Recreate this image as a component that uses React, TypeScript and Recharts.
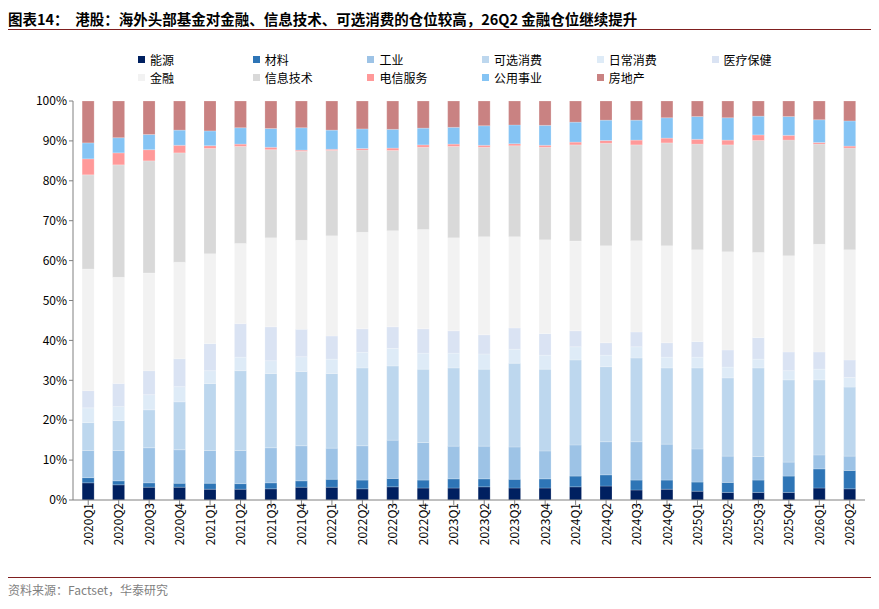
import { BarChart, Bar, XAxis, YAxis } from 'recharts'

const quarters = [
    '2020Q1', '2020Q2', '2020Q3', '2020Q4', '2021Q1', '2021Q2', '2021Q3', '2021Q4',
    '2022Q1', '2022Q2', '2022Q3', '2022Q4', '2023Q1', '2023Q2', '2023Q3', '2023Q4',
    '2024Q1', '2024Q2', '2024Q3', '2024Q4', '2025Q1', '2025Q2', '2025Q3', '2025Q4',
    '2026Q1', '2026Q2',
]

const energy = [4.3, 3.8, 3.2, 3.2, 2.7, 2.7, 2.8, 3.2, 3.2, 2.8, 3.3, 3.0, 3.0, 3.3, 3.0, 3.0, 3.3, 3.5, 2.5, 2.7, 2.2, 1.9, 1.9, 1.9, 3.0, 2.8]
const materials = [1.3, 1.0, 1.1, 1.0, 1.5, 1.4, 1.5, 1.6, 2.0, 2.2, 2.1, 2.0, 2.3, 2.0, 2.2, 2.3, 2.7, 2.8, 2.5, 2.3, 2.3, 2.5, 3.1, 4.1, 4.8, 4.6]
const industry = [6.8, 7.6, 8.8, 8.4, 8.2, 8.3, 8.8, 8.8, 7.8, 8.6, 9.6, 9.4, 8.2, 8.2, 8.1, 7.0, 7.8, 8.3, 9.6, 9.0, 8.3, 6.6, 5.9, 3.5, 3.5, 3.6]
const discretionary = [7.0, 7.5, 9.5, 12.0, 16.8, 20.0, 18.6, 18.6, 18.7, 19.5, 18.6, 18.4, 19.6, 19.3, 21.0, 20.5, 21.3, 18.8, 21.0, 19.1, 20.3, 19.6, 22.2, 20.6, 18.8, 17.3]
const staples = [3.7, 3.5, 3.8, 3.8, 3.2, 3.4, 3.2, 3.7, 3.6, 3.9, 4.4, 4.0, 3.7, 3.8, 3.5, 3.5, 3.3, 2.9, 2.8, 2.7, 2.7, 2.7, 2.2, 2.3, 2.7, 2.4]
const healthcare = [4.3, 5.8, 6.0, 7.0, 6.8, 8.4, 8.5, 6.9, 5.8, 5.9, 5.4, 6.1, 5.6, 4.8, 5.3, 5.4, 4.0, 3.1, 3.7, 3.6, 3.9, 4.3, 5.4, 4.7, 4.3, 4.4]
const finance = [30.5, 26.6, 24.5, 24.2, 22.5, 20.1, 22.3, 22.3, 25.1, 24.2, 24.1, 24.9, 23.3, 24.6, 22.9, 23.5, 22.5, 24.3, 22.9, 24.3, 23.0, 24.6, 21.3, 24.1, 27.0, 27.6]
const infoTech = [23.6, 28.2, 28.1, 27.4, 26.4, 24.3, 22.1, 22.3, 21.4, 20.6, 20.1, 20.6, 22.9, 22.4, 22.8, 23.2, 24.1, 25.7, 24.0, 25.8, 26.5, 26.8, 28.1, 29.0, 25.1, 25.5]
const telecom = [4.0, 3.0, 2.8, 1.9, 0.7, 0.6, 0.6, 0.3, 0.3, 0.4, 0.6, 0.6, 0.6, 0.5, 0.5, 0.5, 0.7, 0.7, 1.2, 1.2, 1.2, 1.2, 1.4, 1.2, 0.4, 0.5]
const utilities = [4.0, 3.8, 3.8, 3.8, 3.7, 4.1, 4.7, 5.6, 4.8, 4.9, 4.7, 4.2, 4.2, 4.9, 4.7, 5.0, 5.0, 5.1, 5.0, 5.1, 5.7, 5.6, 4.7, 4.7, 5.7, 6.3]
const realEstate = [10.5, 9.2, 8.4, 7.3, 7.5, 6.7, 6.9, 6.7, 7.3, 7.0, 7.1, 6.8, 6.6, 6.2, 6.0, 6.1, 5.3, 4.8, 4.8, 4.2, 3.9, 4.2, 3.8, 3.9, 4.7, 5.0]

const yTicks = [0, 10, 20, 30, 40, 50, 60, 70, 80, 90, 100]

const series = [
    { key: 'energy', name: '能源', color: '#002060', values: energy },
    { key: 'materials', name: '材料', color: '#2E75B6', values: materials },
    { key: 'industry', name: '工业', color: '#9DC3E6', values: industry },
    { key: 'discretionary', name: '可选消费', color: '#BDD7EE', values: discretionary },
    { key: 'staples', name: '日常消费', color: '#DEEBF7', values: staples },
    { key: 'healthcare', name: '医疗保健', color: '#DAE3F3', values: healthcare },
    { key: 'finance', name: '金融', color: '#F2F2F2', values: finance },
    { key: 'infoTech', name: '信息技术', color: '#D9D9D9', values: infoTech },
    { key: 'telecom', name: '电信服务', color: '#FF9999', values: telecom },
    { key: 'utilities', name: '公用事业', color: '#85C4F4', values: utilities },
    { key: 'realEstate', name: '房地产', color: '#C98282', values: realEstate },
]

const data = quarters.map((q, i) => {
    const row: Record<string, number | string> = { q }
    series.forEach(s => { row[s.key] = s.values[i] })
    return row
})

const font = '"Noto Sans CJK SC", "Noto Sans", sans-serif'

export default function App() {
    return (
        <div style={{ position: 'relative', width: 863, height: 593, fontFamily: font, color: '#000' }}>
            <div style={{ position: 'absolute', left: 0, top: 0, fontSize: 14.5, fontWeight: 'bold', whiteSpace: 'nowrap' }}>
                图表14：&nbsp;&nbsp;港股：海外头部基金对金融、信息技术、可选消费的仓位较高，26Q2 金融仓位继续提升
            </div>
            <div style={{ position: 'absolute', left: 0, top: 21, width: 863, height: 1, background: '#7f1f1f' }} />
            {series.map((s, i) => (
                <div key={s.key} style={{
                    position: 'absolute', left: 130 + (i % 6) * 114.7, top: i < 6 ? 44 : 62,
                    display: 'flex', alignItems: 'center', fontSize: 12, lineHeight: '15px', whiteSpace: 'nowrap',
                }}>
                    <span style={{ width: 7, height: 7, background: s.color, marginRight: 5, display: 'inline-block' }} />
                    {s.name}
                </div>
            ))}
            <div style={{ position: 'absolute', left: 0, top: 0 }}>
                <BarChart width={863} height={560} data={data} stackOffset="expand"
                    margin={{ top: 93, right: 6, bottom: 8, left: 25 }} barCategoryGap="30%">
                    <XAxis dataKey="q" interval={0} angle={-90} textAnchor="end" height={60}
                        tick={{ fontSize: 12, fill: '#000', dy: -4, dx: -4 }} stroke="#808080" tickSize={5} />
                    <YAxis domain={[0, 1]} ticks={yTicks.map(t => t / 100)} width={40}
                        tickFormatter={v => `${Math.round(v * 100)}%`} tick={{ fontSize: 12, fill: '#000' }}
                        stroke="#808080" tickSize={4} />
                    {series.map(s => (
                        <Bar key={s.key} dataKey={s.key} name={s.name} stackId="a" fill={s.color}
                            stroke="#ffffff" strokeOpacity={0.4} strokeWidth={0.5} isAnimationActive={false} />
                    ))}
                </BarChart>
            </div>
            <div style={{ position: 'absolute', left: 0, top: 569, width: 863, height: 1, background: '#7f1f1f' }} />
            <div style={{ position: 'absolute', left: 0, top: 573, fontSize: 12, color: '#7f7f7f' }}>
                资料来源：Factset，华泰研究
            </div>
        </div>
    )
}
